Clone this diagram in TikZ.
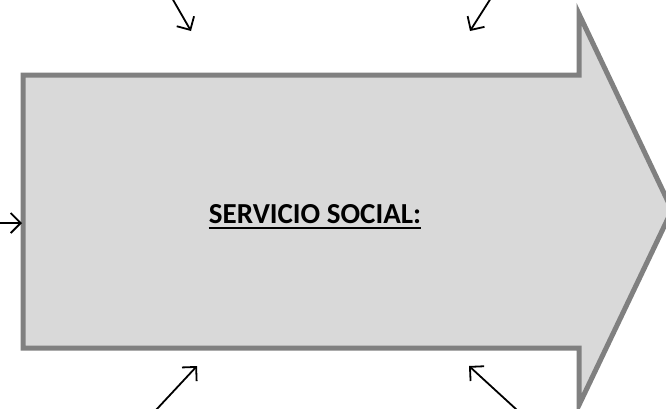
\documentclass[tikz,border=0pt]{standalone}
\usepackage{fontspec}
\setmainfont{Carlito}
\usetikzlibrary{arrows.meta,positioning}

\begin{document}
\begin{tikzpicture}[x=1pt,y=-1pt]
	\tikzstyle{bigarrow}=[draw=black!50, fill=black!15, line width=5pt, line join=miter]
	\tikzstyle{pointer}=[draw, line width=1.8pt, -{Straight Barb[length=10pt,width=20pt,line width=1.8pt]}]
	\tikzstyle{title}=[font=\fontsize{29}{34}\selectfont\bfseries, text=black, inner sep=0pt]

	\useasboundingbox (0,0) rectangle (666,408);

	% the large arrow
	\draw[bigarrow] (23,75) -- (579,75) -- (579,14) -- (672,210)
		-- (579,405) -- (579,348) -- (23,348) -- cycle;

	\node[title] (serv) at (315,214) {SERVICIO SOCIAL:};
	\draw[line width=2pt] ([yshift=-4.5pt]serv.base west) -- ([yshift=-4.5pt]serv.base east);

	% arrow tips on the big arrow
	\coordinate (tl) at (191,31);
	\coordinate (tr) at (470,31);
	\coordinate (le) at (22,223);
	\coordinate (bl) at (197,366);
	\coordinate (br) at (469,366);

	% free ends at the border
	\coordinate (tl0) at (172,-2);
	\coordinate (tr0) at (491,-2);
	\coordinate (le0) at (-2,223);
	\coordinate (bl0) at (156,410);
	\coordinate (br0) at (517,410);

	\draw[pointer] (tl0) -- (tl);
	\draw[pointer] (tr0) -- (tr);
	\draw[pointer] (le0) -- (le);
	\draw[pointer] (bl0) -- (bl);
	\draw[pointer] (br0) -- (br);
\end{tikzpicture}
\end{document}
